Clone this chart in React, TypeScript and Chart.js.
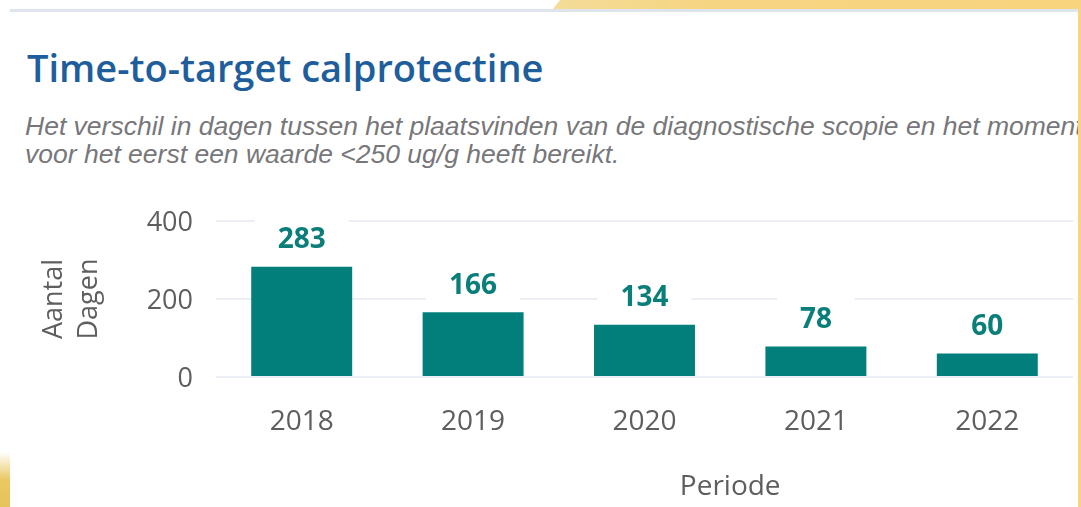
import React, { useEffect, useRef } from 'react';
import { Chart, registerables } from 'chart.js';

Chart.register(...registerables);

// ---- data ----
const periods = ['2018', '2019', '2020', '2021', '2022'];
const days = [283, 166, 134, 78, 60];
const yTickValues = [0, 200, 400];
const chartTitle = 'Time-to-target calprotectine';
const subtitleLines = [
  'Het verschil in dagen tussen het plaatsvinden van de diagnostische scopie en het moment',
  'voor het eerst een waarde <250 ug/g heeft bereikt.',
];
const yAxisTitle = ['Aantal', 'Dagen'];
const xAxisTitle = 'Periode';

const TEAL = '#027f7b';
const LABEL_TEAL = '#0a7e79';
const GRAY = '#605e5c';
const FONT = '"Open Sans", "Noto Sans", sans-serif';

const barLabels = {
  id: 'barLabels',
  afterDatasetsDraw(chart: any) {
    const ctx = chart.ctx;
    const meta = chart.getDatasetMeta(0);
    ctx.save();
    ctx.font = `bold 28px ${FONT}`;
    ctx.textAlign = 'center';
    ctx.textBaseline = 'middle';
    meta.data.forEach((bar: any, i: number) => {
      const { x, y } = bar.getProps(['x', 'y'], true);
      const text = String(days[i]);
      const w = ctx.measureText(text).width + 46;
      const cy = y - 26.5;
      ctx.fillStyle = '#ffffff';
      ctx.fillRect(x - w / 2, cy - 23, w, 39);
      ctx.fillStyle = LABEL_TEAL;
      ctx.fillText(text, x, cy);
    });
    ctx.restore();
  },
};

const xTitle = {
  id: 'xTitle',
  afterDraw(chart: any) {
    const xs = chart.scales.x;
    const ctx = chart.ctx;
    const cx = (xs.getPixelForTick(2) + xs.getPixelForTick(3)) / 2;
    ctx.save();
    ctx.font = `28px ${FONT}`;
    ctx.fillStyle = GRAY;
    ctx.textAlign = 'center';
    ctx.textBaseline = 'alphabetic';
    ctx.fillText(xAxisTitle, cx, xs.bottom - 12);
    ctx.restore();
  },
};

export default function App() {
  const ref = useRef<HTMLCanvasElement | null>(null);

  useEffect(() => {
    document.body.style.margin = '0';
    if (!ref.current) return;
    const chart = new Chart(ref.current, {
      type: 'bar',
      data: {
        labels: periods,
        datasets: [
          {
            data: days,
            backgroundColor: TEAL,
            borderWidth: 0,
            barPercentage: 0.589,
            categoryPercentage: 1,
          },
        ],
      },
      options: {
        animation: false,
        responsive: true,
        maintainAspectRatio: false,
        layout: { padding: { left: 0, right: 5, top: 31, bottom: 0 } },
        plugins: {
          legend: { display: false },
          tooltip: { enabled: false },
          title: { display: false },
        },
        scales: {
          x: {
            grid: { display: false, drawTicks: false },
            border: { display: false },
            ticks: {
              color: GRAY,
              font: { family: FONT, size: 28 },
              padding: 28,
              maxRotation: 0,
              autoSkip: false,
            },
            afterFit: (s: any) => {
              s.height = 130;
            },
          },
          y: {
            min: yTickValues[0],
            max: yTickValues[yTickValues.length - 1],
            afterBuildTicks: (s: any) => {
              s.ticks = yTickValues.map((v) => ({ value: v }));
            },
            grid: { color: '#eceef5', lineWidth: 2, drawTicks: false },
            border: { display: false },
            ticks: {
              color: GRAY,
              font: { family: FONT, size: 27 },
              padding: 23,
              labelOffset: 2,
            },
            title: {
              display: true,
              text: yAxisTitle,
              color: GRAY,
              font: { family: FONT, size: 27, lineHeight: 1.3 },
              padding: { top: 27, bottom: 0 },
            },
            afterFit: (s: any) => {
              s.width = 206;
              s.paddingTop = 0;
              s.paddingBottom = 0;
            },
          },
        },
      },
      plugins: [barLabels, xTitle],
    });
    return () => chart.destroy();
  }, []);

  return (
    <div style={{ position: 'fixed', left: 0, top: 0, width: 1081, height: 507, background: '#ffffff', overflow: 'hidden' }}>
      <div
        style={{
          position: 'absolute',
          left: 552,
          top: 0,
          width: 529,
          height: 10,
          background: 'linear-gradient(90deg, #f4dc98 0%, #f6d582 30%, #f8d47e 100%)',
          clipPath: 'polygon(8px 0, 100% 0, 100% 100%, 0 100%)',
        }}
      />
      <div style={{ position: 'absolute', left: 1078, top: 0, width: 3, height: 507, background: '#f9d47e' }} />
      <div
        style={{
          position: 'absolute',
          left: 0,
          top: 452,
          width: 10,
          height: 55,
          background: 'linear-gradient(180deg, rgba(233,200,96,0) 0px, #e9c862 28px, #e6c45c 100%)',
        }}
      />
      <div
        style={{
          position: 'absolute',
          left: 10,
          top: 9,
          width: 1068,
          height: 498,
          boxSizing: 'border-box',
          borderTop: '3px solid #dee4eb',
          background: '#ffffff',
          overflow: 'hidden',
        }}
      >
        <div
          style={{
            position: 'absolute',
            left: 17,
            top: 36,
            fontFamily: FONT,
            fontWeight: 600,
            fontSize: 38,
            lineHeight: '38px',
            color: '#1f5e9c',
            whiteSpace: 'nowrap',
          }}
        >
          {chartTitle}
        </div>
        <div
          style={{
            position: 'absolute',
            left: 15,
            top: 100,
            fontFamily: '"Liberation Sans", Arial, sans-serif',
            fontStyle: 'italic',
            fontSize: 26.5,
            lineHeight: '28px',
            color: '#77777a',
            whiteSpace: 'nowrap',
          }}
        >
          {subtitleLines.map((l) => (
            <div key={l}>{l}</div>
          ))}
        </div>
        <div style={{ position: 'absolute', left: 0, top: 178, width: 1068, height: 317 }}>
          <canvas ref={ref} />
        </div>
      </div>
    </div>
  );
}
